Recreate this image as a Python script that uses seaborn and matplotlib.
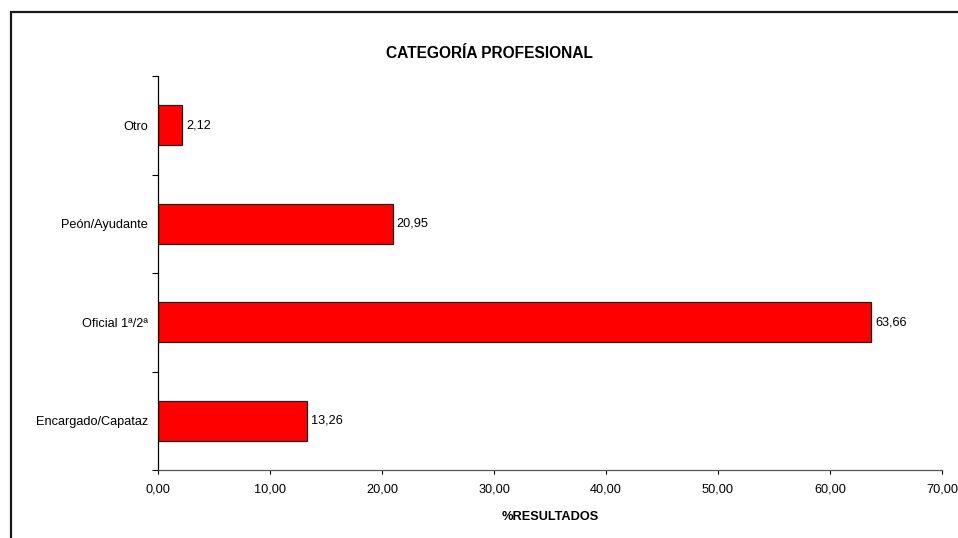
import matplotlib
matplotlib.use("Agg")
import matplotlib.pyplot as plt
import matplotlib.patches as mpatches
from matplotlib.ticker import FixedLocator, FuncFormatter
import seaborn as sns
import pandas as pd

categorias = ["Otro", "Peón/Ayudante", "Oficial 1ª/2ª", "Encargado/Capataz"]
porcentajes = [2.12, 20.95, 63.66, 13.26]
x_ticks = [0, 10, 20, 30, 40, 50, 60, 70]

sns.set_theme(style="white")
plt.rcParams["font.family"] = ["Liberation Sans", "DejaVu Sans"]

FS = 9.2

df = pd.DataFrame({"categoria": categorias, "porcentaje": porcentajes})

fig = plt.figure(figsize=(9.58, 5.38), dpi=100)
ax = fig.add_axes([158 / 958, 1 - 470 / 538, (942 - 158) / 958, (470 - 76) / 538])

sns.barplot(data=df, y="categoria", x="porcentaje", order=categorias,
            orient="h", color="#ff0000", saturation=1, width=0.406,
            edgecolor="#202020", linewidth=0.9, ax=ax)

ax.set_xlim(0, 70)
ax.set_ylim(len(categorias) - 0.5, -0.5)

# value labels with decimal comma
etiquetas = [f"{v:.2f}".replace(".", ",") for v in porcentajes]
ax.bar_label(ax.containers[0], labels=etiquetas, padding=3, fontsize=FS, color="black")

# x axis
ax.xaxis.set_major_locator(FixedLocator(x_ticks))
ax.xaxis.set_major_formatter(FuncFormatter(lambda v, p: f"{v:.2f}".replace(".", ",")))
ax.tick_params(axis="x", which="major", direction="out", length=3, width=0.8,
               labelsize=FS, pad=6.5, bottom=True, colors="black")

# y axis: tick marks between categories, labels centred on the bars
n = len(categorias)
ax.yaxis.set_major_locator(FixedLocator([i - 0.5 for i in range(n + 1)]))
ax.yaxis.set_major_formatter(FuncFormatter(lambda v, p: ""))
ax.yaxis.set_minor_locator(FixedLocator(list(range(n))))
ax.set_yticklabels(categorias, minor=True)
ax.tick_params(axis="y", which="major", direction="out", length=4, width=0.8,
               left=True, colors="black")
ax.tick_params(axis="y", which="minor", length=0, labelsize=FS, pad=7, labelcolor="black")

for side in ["top", "right"]:
    ax.spines[side].set_visible(False)
ax.spines["left"].set_color("black")
ax.spines["left"].set_linewidth(0.9)
ax.spines["bottom"].set_color("#555555")
ax.spines["bottom"].set_linewidth(0.9)

ax.set_ylabel("")
ax.set_xlabel("%RESULTADOS", fontsize=FS, fontweight="bold", labelpad=11.5, color="black")
fig.text(489 / 958, 1 - 53 / 538, "CATEGORÍA PROFESIONAL", ha="center", va="center",
         fontsize=11.2, fontweight="bold", color="black")

# outer chart frame
frame = mpatches.Rectangle((10.5 / 958, -0.1), 1.2, 1.1 - 12.5 / 538,
                           transform=fig.transFigure, fill=False,
                           edgecolor="#1a1a1a", linewidth=1.6, clip_on=False)
fig.patches.append(frame)

fig.savefig("out.png", dpi=100)
